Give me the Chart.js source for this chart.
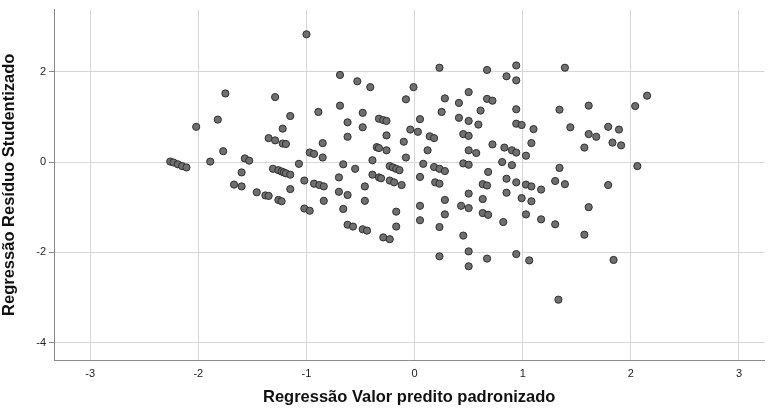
<!DOCTYPE html>
<html>
<head>
<meta charset="utf-8">
<script src="https://cdn.jsdelivr.net/npm/chart.js@4/dist/chart.umd.min.js"></script>
<style>
  html, body { margin: 0; padding: 0; background: #fff; }
  #wrap { width: 769px; height: 414px; }
</style>
</head>
<body>
<div id="wrap"><canvas id="residualChart"></canvas></div>
<script>
// standardized predicted value (x) vs studentized residual (y)
const xValues = [
  -1.00, -1.75, -1.29, -1.15, -1.82, -1.22, -2.02, -1.35, -1.29, -1.22,
  -1.19, -1.77, -0.97, -0.93, -2.26, -2.23, -2.19, -2.15, -2.11, -1.89,
  -1.57, -1.53, -1.07, -1.31, -1.26, -1.23, -1.21, -1.19, -1.15, -1.60,
  -1.02, -1.67, -1.60, -1.15, -1.46, -1.38, -1.35, -1.26, -1.23, -1.02,
  -0.97, -0.69, -0.53, -0.41, -0.01, -0.08, -0.89, -0.69, -0.48, -0.62,
  -0.48, -0.33, -0.29, -0.26, 0.05, -0.62, -0.26, -0.04, 0.03, -0.85,
  -0.85, -0.35, -0.33, -0.26, -0.10, -0.08, 0.12, -0.66, -0.55, -0.39,
  -0.23, -0.20, -0.17, -0.14, 0.08, -0.93, -0.88, -0.84, -0.70, -0.39,
  -0.33, -0.31, -0.23, -0.19, -0.12, 0.05, -0.46, -0.70, -0.62, -0.84,
  -0.46, -0.66, -0.17, 0.05, 0.05, -0.62, -0.57, -0.48, -0.44, -0.17,
  -0.29, -0.23, 0.23, 0.67, 0.94, 0.85, 0.94, 0.50, 0.28, 0.67,
  0.72, 0.41, 0.61, 0.25, 0.94, 0.41, 0.50, 0.59, 0.94, 0.99,
  1.10, 0.14, 0.18, 0.45, 0.50, 0.50, 0.57, 0.72, 0.83, 0.90,
  0.94, 1.08, 1.03, 0.18, 0.23, 0.28, 0.45, 0.50, 0.81, 0.90,
  0.68, 0.19, 0.23, 0.63, 0.67, 0.85, 0.94, 1.03, 1.08, 0.50,
  0.28, 0.63, 0.85, 0.99, 1.08, 0.43, 0.50, 0.28, 0.63, 0.68,
  1.03, 0.23, 0.82, 0.45, 0.50, 0.23, 0.67, 0.94, 1.06, 0.50,
  1.39, 2.15, 2.04, 1.34, 1.61, 1.44, 1.79, 1.89, 1.61, 1.68,
  1.57, 1.83, 1.91, 2.06, 1.34, 1.17, 1.30, 1.39, 1.79, 1.61,
  1.17, 1.30, 1.57, 1.84, 1.33
];
const yValues = [
  2.83, 1.52, 1.44, 1.02, 0.94, 0.74, 0.78, 0.53, 0.48, 0.41,
  0.40, 0.24, 0.21, 0.18, 0.01, -0.01, -0.05, -0.09, -0.12, 0.01,
  0.08, 0.03, -0.04, -0.15, -0.18, -0.21, -0.23, -0.25, -0.28, -0.23,
  -0.41, -0.50, -0.54, -0.60, -0.67, -0.74, -0.75, -0.84, -0.87, -1.03,
  -1.08, 1.93, 1.79, 1.66, 1.66, 1.39, 1.11, 1.25, 1.09, 0.88,
  0.77, 0.96, 0.93, 0.91, 0.95, 0.56, 0.59, 0.72, 0.67, 0.42,
  0.10, 0.33, 0.31, 0.26, 0.45, 0.10, 0.26, -0.05, -0.15, 0.04,
  -0.09, -0.12, -0.15, -0.18, -0.04, -0.48, -0.51, -0.54, -0.34, -0.28,
  -0.34, -0.36, -0.41, -0.45, -0.51, -0.33, -0.54, -0.66, -0.73, -0.86,
  -0.86, -1.04, -1.10, -0.97, -1.29, -1.39, -1.43, -1.49, -1.52, -1.43,
  -1.67, -1.71, 2.09, 2.04, 2.14, 1.90, 1.81, 1.55, 1.41, 1.40,
  1.36, 1.31, 1.14, 1.11, 1.17, 0.98, 0.91, 0.83, 0.85, 0.82,
  0.73, 0.57, 0.53, 0.62, 0.58, 0.26, 0.20, 0.39, 0.32, 0.26,
  0.21, 0.42, 0.14, -0.11, -0.15, -0.20, -0.03, -0.06, 0.00, -0.07,
  -0.22, -0.45, -0.48, -0.49, -0.52, -0.37, -0.45, -0.50, -0.54, -0.70,
  -0.84, -0.82, -0.68, -0.80, -0.87, -0.97, -1.02, -1.16, -1.13, -1.17,
  -1.16, -1.44, -1.33, -1.63, -1.98, -2.09, -2.14, -2.04, -2.18, -2.31,
  2.09, 1.47, 1.24, 1.16, 1.25, 0.77, 0.78, 0.72, 0.62, 0.56,
  0.32, 0.43, 0.37, -0.09, -0.13, -0.61, -0.42, -0.49, -0.51, -1.00,
  -1.27, -1.38, -1.61, -2.17, -3.05
];
const xTicks = [-3, -2, -1, 0, 1, 2, 3];
const yTicks = [-4, -2, 0, 2];

const xTitle = "Regressão Valor predito padronizado";
const yTitle = "Regressão Resíduo Studentizado";

const points = xValues.map((x, i) => ({ x, y: yValues[i] }));

const FONT = "'Liberation Sans', Arial, sans-serif";
const GRID = "#d6d6d6";

new Chart(document.getElementById("residualChart"), {
  type: "scatter",
  data: {
    datasets: [{
      data: points,
      pointRadius: 3.6,
      pointHoverRadius: 3.6,
      backgroundColor: "#6f6f6f",
      borderColor: "#2f2f2f",
      borderWidth: 1
    }]
  },
  options: {
    responsive: true,
    maintainAspectRatio: false,
    animation: false,
    layout: { padding: { top: 7, right: 0, left: 0, bottom: 0 } },
    plugins: { legend: { display: false }, tooltip: { enabled: false } },
    scales: {
      x: {
        type: "linear",
        min: -3.335,
        max: 3.235,
        afterBuildTicks: s => { s.ticks = xTicks.map(v => ({ value: v })); },
        afterFit: s => { s.height = 54; },
        grid: { color: GRID, lineWidth: 1, tickLength: 3, tickColor: "#ffffff" },
        border: { display: true, color: "#8a8a8a", width: 1 },
        ticks: { color: "#222", font: { family: FONT, size: 11 }, padding: 4 },
        title: {
          display: true,
          text: xTitle,
          color: "#111",
          font: { family: FONT, size: 16.5, weight: "bold" },
          padding: { top: 4, bottom: 7 }
        }
      },
      y: {
        type: "linear",
        min: -4.387,
        max: 3.378,
        afterBuildTicks: s => { s.ticks = yTicks.map(v => ({ value: v })); },
        afterFit: s => { s.width = 54; },
        grid: { color: GRID, lineWidth: 1, tickLength: 5, tickColor: "#8a8a8a" },
        border: { display: true, color: "#8a8a8a", width: 1 },
        ticks: { color: "#222", font: { family: FONT, size: 11 }, padding: 3 },
        title: {
          display: true,
          text: yTitle,
          color: "#111",
          font: { family: FONT, size: 16.5, weight: "bold" },
          padding: { top: 0, bottom: 2 }
        }
      }
    }
  }
});
</script>
</body>
</html>
